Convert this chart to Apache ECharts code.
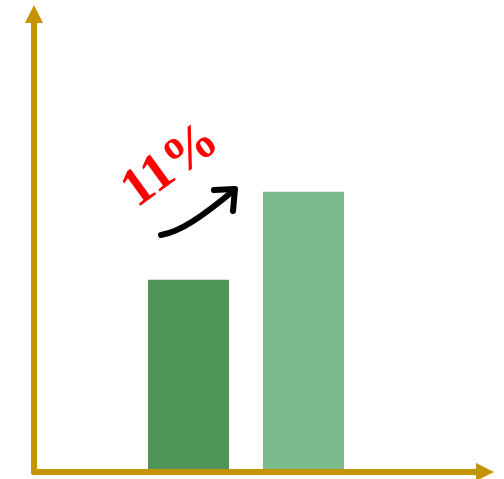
<!DOCTYPE html>
<html>
<head>
<meta charset="utf-8">
<script src="https://cdn.jsdelivr.net/npm/echarts@6/dist/echarts.min.js"></script>
<style>html,body{margin:0;padding:0;background:#fff;}#c{width:504px;height:479px;}</style>
</head>
<body>
<div id="c"></div>
<script>
const categories = ['Before', 'After'];
const values = [42, 61.2];
const barColors = ['#4F9459', '#7BBB8B'];
const changeLabel = '11%';

const axisColor = '#C49400';
const chart = echarts.init(document.getElementById('c'), null, {renderer: 'canvas'});
chart.setOption({
  animation: false,
  backgroundColor: '#ffffff',
  grid: [
    {left: 34, right: 19, top: 14, bottom: 7},
    {left: 131, right: 143, top: 14, bottom: 7}
  ],
  xAxis: [
    {gridIndex: 0, type: 'value', min: 0, max: 1, splitLine: {show: false}, axisTick: {show: false}, axisLabel: {show: false},
     axisLine: {show: true, onZero: false, symbol: ['none', 'triangle'], symbolSize: [18, 18], lineStyle: {color: axisColor, width: 6}}, z: 10},
    {gridIndex: 1, type: 'category', data: categories, show: false}
  ],
  yAxis: [
    {gridIndex: 0, type: 'value', min: 0, max: 1, splitLine: {show: false}, axisTick: {show: false}, axisLabel: {show: false},
     axisLine: {show: true, onZero: false, symbol: ['none', 'triangle'], symbolSize: [18, 18], lineStyle: {color: axisColor, width: 6}}, z: 10},
    {gridIndex: 1, type: 'value', min: 0, max: 100, show: false}
  ],
  series: [{
    type: 'bar',
    xAxisIndex: 1,
    yAxisIndex: 1,
    barWidth: 81,
    z: 1,
    data: values.map((v, i) => ({value: v, itemStyle: {color: barColors[i]}}))
  }],
  graphic: [
    {
      type: 'text', x: 171, y: 166, rotation: 36 * Math.PI / 180,
      style: {text: changeLabel, font: 'bold 54px "Liberation Serif", "DejaVu Serif", serif', fill: '#FF0000', align: 'center', verticalAlign: 'middle'}
    },
    {
      type: 'bezierCurve',
      shape: {x1: 161, y1: 235, cpx1: 180, cpy1: 232, cpx2: 203, cpy2: 216, x2: 233, y2: 191},
      style: {fill: null, stroke: '#000', lineWidth: 6, lineCap: 'round', lineJoin: 'round'}
    },
    {
      type: 'polyline',
      shape: {points: [[214, 190], [235, 189], [233, 211]]},
      style: {fill: null, stroke: '#000', lineWidth: 6, lineCap: 'round', lineJoin: 'round'}
    }
  ]
});
</script>
</body>
</html>
